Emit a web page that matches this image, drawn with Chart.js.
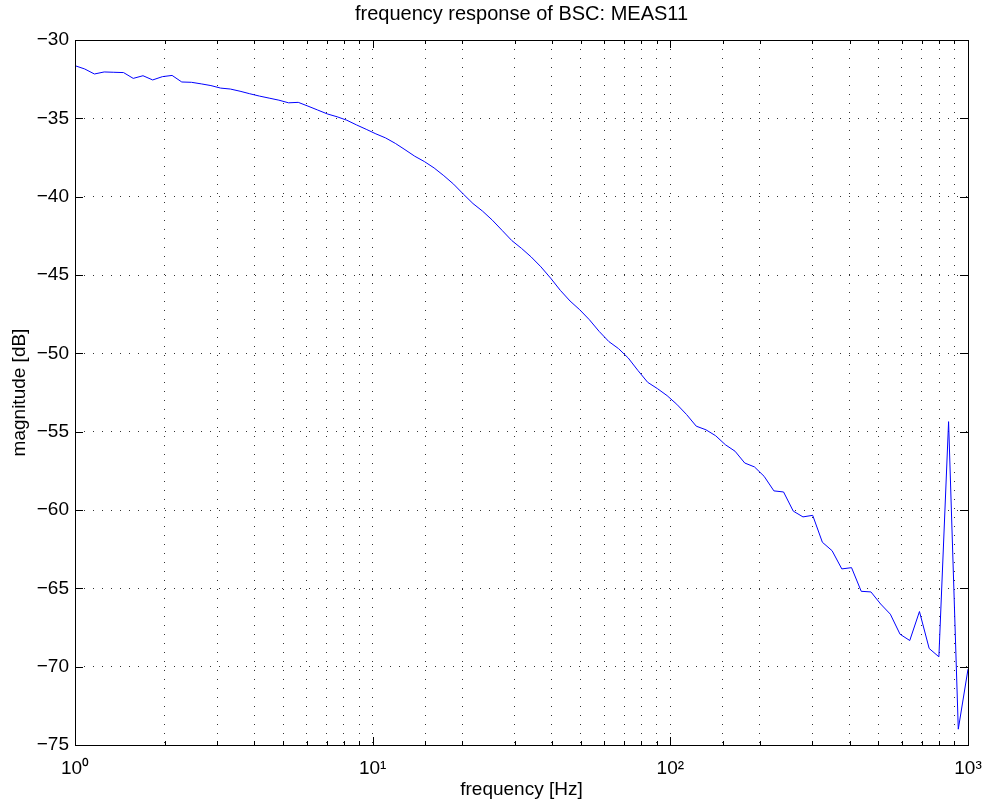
<!DOCTYPE html>
<html>
<head>
<meta charset="utf-8">
<script src="https://cdn.jsdelivr.net/npm/chart.js@4.4.1/dist/chart.umd.min.js"></script>
<style>
  html, body { margin: 0; padding: 0; background: #ffffff; }
  #wrap { width: 987px; height: 805px; position: relative; }
</style>
</head>
<body>
<div id="wrap"><canvas id="c" width="987" height="805"></canvas></div>
<script>
// ---- data ----
const chartTitle = 'frequency response of BSC: MEAS11';
const xAxisTitle = 'frequency [Hz]';
const yAxisTitle = 'magnitude [dB]';

const frequencyHz = [
  1.000, 1.078, 1.162, 1.253, 1.350, 1.456, 1.569, 1.692, 1.824, 1.966,
  2.119, 2.284, 2.462, 2.655, 2.862, 3.085, 3.325, 3.585, 3.864, 4.166,
  4.490, 4.841, 5.218, 5.623, 6.062, 6.535, 7.044, 7.594, 8.186, 8.825,
  9.513, 10.25, 11.05, 11.92, 12.84, 13.85, 14.92, 16.09, 17.34, 18.70,
  20.15, 21.73, 23.42, 25.24, 27.21, 29.33, 31.62, 34.09, 36.75, 39.61,
  42.70, 46.03, 49.62, 53.49, 57.66, 62.16, 67.00, 72.22, 77.87, 83.93,
  90.47, 97.53, 105.1, 113.3, 122.2, 131.7, 142.0, 153.0, 165.0, 177.8,
  191.7, 206.6, 222.8, 240.1, 258.8, 279.0, 300.8, 324.2, 349.5, 376.8,
  406.2, 437.8, 472.0, 508.8, 548.4, 591.2, 637.3, 687.0, 740.6, 798.3,
  860.6, 927.6, 1000
];

const magnitudeDb = [
  -31.64, -31.85, -32.17, -32.04, -32.06, -32.08, -32.45, -32.28, -32.55, -32.34,
  -32.26, -32.68, -32.70, -32.80, -32.91, -33.07, -33.13, -33.27, -33.43, -33.58,
  -33.71, -33.84, -34.01, -33.98, -34.22, -34.47, -34.72, -34.90, -35.12, -35.42,
  -35.70, -35.99, -36.25, -36.60, -37.00, -37.42, -37.76, -38.17, -38.66, -39.20,
  -39.83, -40.44, -40.93, -41.50, -42.15, -42.80, -43.30, -43.85, -44.48, -45.20,
  -45.98, -46.66, -47.22, -47.86, -48.60, -49.25, -49.70, -50.30, -51.10, -51.85,
  -52.25, -52.70, -53.25, -53.90, -54.65, -54.88, -55.26, -55.83, -56.25, -57.00,
  -57.25, -57.85, -58.78, -58.85, -60.07, -60.44, -60.34, -62.06, -62.60, -63.76,
  -63.68, -65.19, -65.23, -66.00, -66.65, -67.93, -68.33, -66.48, -68.84, -69.37,
  -54.36, -73.99, -70.16
];

const xRange = [1, 1000];
const yRange = [-75, -30];
const yStep = 5;
const expSup = { '0': '\u2070', '1': '\u00B9', '2': '\u00B2', '3': '\u00B3' };

// ---- chart ----
const FONT = "'Liberation Sans', Arial, Helvetica, sans-serif";
const points = frequencyHz.map((f, i) => ({ x: f, y: magnitudeDb[i] }));

// title centred over the plot area (as in the reference)
const axesTitle = {
  id: 'axesTitle',
  afterDraw(chart) {
    const { ctx, chartArea: a } = chart;
    ctx.save();
    ctx.fillStyle = '#000';
    ctx.font = '20px ' + FONT;
    ctx.textAlign = 'center';
    ctx.textBaseline = 'middle';
    ctx.fillText(chartTitle, (a.left + a.right) / 2, 14);
    ctx.restore();
  }
};

const frameAndTicks = {
  id: 'frameAndTicks',
  afterDraw(chart) {
    const { ctx, chartArea: a, scales } = chart;
    ctx.save();
    ctx.strokeStyle = '#000';
    ctx.lineWidth = 1;
    ctx.beginPath();
    scales.x.ticks.forEach(t => {
      const px = Math.round(scales.x.getPixelForValue(t.value)) + 0.5;
      const lg = Math.log10(t.value);
      const len = Math.abs(lg - Math.round(lg)) < 1e-6 ? 8 : 4;
      ctx.moveTo(px, a.bottom); ctx.lineTo(px, a.bottom - len);
      ctx.moveTo(px, a.top); ctx.lineTo(px, a.top + len);
    });
    scales.y.ticks.forEach(t => {
      const py = Math.round(scales.y.getPixelForValue(t.value)) + 0.5;
      ctx.moveTo(a.left, py); ctx.lineTo(a.left + 8, py);
      ctx.moveTo(a.right, py); ctx.lineTo(a.right - 8, py);
    });
    ctx.stroke();
    ctx.strokeRect(Math.round(a.left) + 0.5, Math.round(a.top) + 0.5,
                   Math.round(a.right - a.left), Math.round(a.bottom - a.top));
    ctx.restore();
  }
};

new Chart(document.getElementById('c'), {
  type: 'line',
  data: {
    datasets: [{
      data: points,
      borderColor: '#0000ff',
      borderWidth: 1,
      pointRadius: 0,
      tension: 0,
      fill: false
    }]
  },
  options: {
    responsive: false,
    animation: false,
    layout: { padding: { left: 0, right: 19, top: 40, bottom: 0 } },
    plugins: {
      legend: { display: false },
      tooltip: { enabled: false },
      title: { display: false }
    },
    scales: {
      x: {
        type: 'logarithmic',
        min: xRange[0],
        max: xRange[1],
        afterFit: s => { s.height = 60; s.paddingLeft = 0; s.paddingRight = 0; },
        border: { display: false, dash: [1, 8] },
        grid: { color: 'rgba(0,0,0,0.8)', lineWidth: 1, drawTicks: false },
        ticks: {
          autoSkip: false,
          maxRotation: 0,
          padding: 12,
          color: '#000',
          font: { family: FONT, size: 19 },
          callback: (v) => {
            const lg = Math.log10(v);
            if (Math.abs(lg - Math.round(lg)) < 1e-6) {
              return '10' + expSup[String(Math.round(lg))];
            }
            return '';
          }
        },
        title: {
          display: true,
          text: xAxisTitle,
          color: '#000',
          font: { family: FONT, size: 19 },
          padding: { top: 0, bottom: 4 }
        }
      },
      y: {
        type: 'linear',
        min: yRange[0],
        max: yRange[1],
        afterFit: s => { s.width = 75; s.paddingTop = 0; s.paddingBottom = 0; },
        border: { display: false, dash: [1, 8] },
        grid: { color: 'rgba(0,0,0,0.8)', lineWidth: 1, drawTicks: false },
        ticks: {
          stepSize: yStep,
          padding: 6,
          color: '#000',
          font: { family: FONT, size: 19 },
          callback: (v) => String(v).replace('-', '\u2212')
        },
        title: {
          display: true,
          text: yAxisTitle,
          color: '#000',
          font: { family: FONT, size: 19 },
          padding: { top: 8, bottom: 0 }
        }
      }
    }
  },
  plugins: [axesTitle, frameAndTicks]
});
</script>
</body>
</html>
